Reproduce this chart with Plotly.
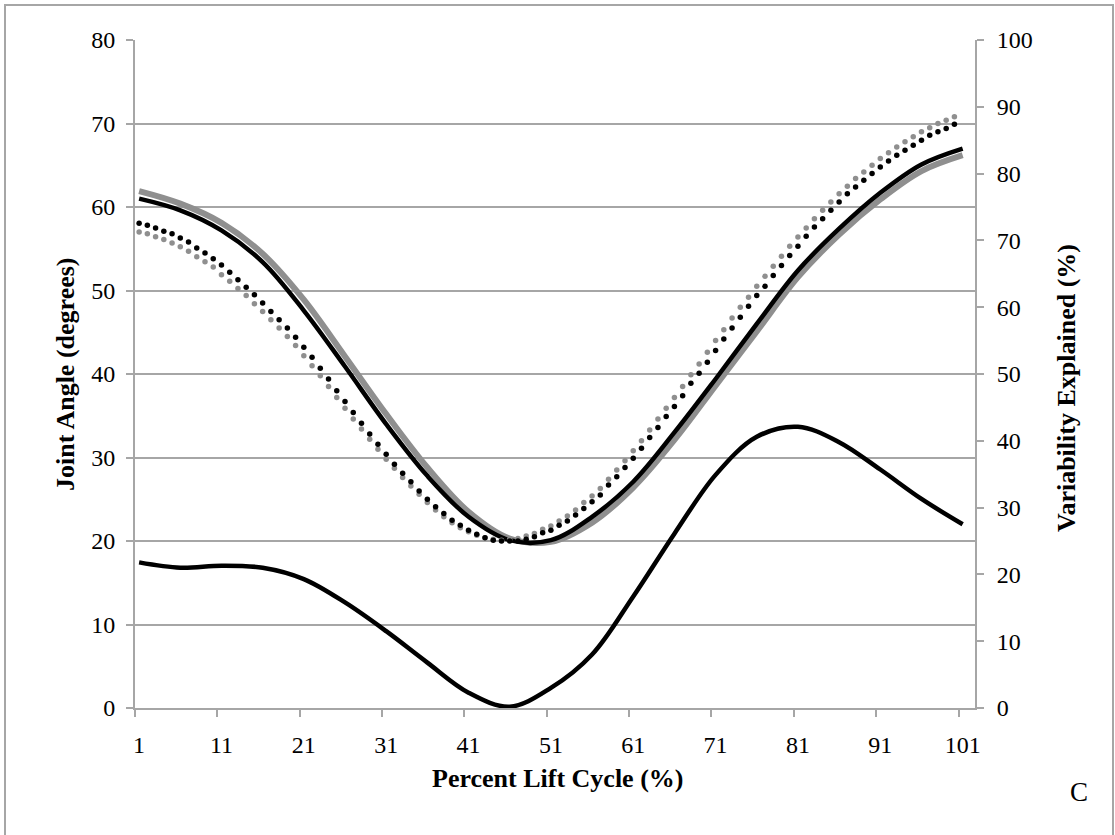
import plotly.graph_objects as go

# ---- data ----
solid_x = [1, 6, 11, 16, 21, 26, 31, 36, 41, 46, 51, 56, 61, 66, 71, 76, 81, 86, 91, 96, 101]
solid_black = [61.0, 59.6, 57.2, 53.4, 47.6, 40.9, 34.0, 27.8, 22.9, 20.1, 20.1, 22.9, 27.1, 33.0, 39.4,
               46.0, 52.4, 57.4, 61.7, 65.1, 67.0]
solid_gray = [61.9, 60.4, 58.1, 54.4, 48.9, 42.1, 35.2, 28.8, 23.5, 20.3, 19.9, 22.2, 26.4, 32.1, 38.6,
              45.1, 51.6, 56.7, 60.9, 64.3, 66.2]
variability = [21.8, 21.0, 21.3, 21.0, 19.3, 15.8, 11.5, 6.8, 2.3, 0.2, 3.0, 8.0, 16.7, 26.1, 34.9,
               40.6, 42.1, 39.8, 35.7, 31.3, 27.5]

dot_x = list(range(1, 101))
dot_black = [58.05, 57.8, 57.5, 57.1, 56.8, 56.3, 55.8, 55.1, 54.5, 53.8,
             53.05, 52.2, 51.3, 50.4, 49.5, 48.5, 47.5, 46.5, 45.5, 44.4,
             43.2, 42.0, 40.7, 39.4, 38.0, 36.7, 35.4, 34.1, 32.8, 31.6,
             30.4, 29.2, 28.1, 27.1, 26.0, 25.0, 24.1, 23.3, 22.5, 21.9,
             21.3, 20.8, 20.4, 20.1, 20.0, 20.0, 20.0, 20.2, 20.5, 21.0,
             21.3, 21.9, 22.4, 23.1, 23.9, 24.7, 25.5, 26.7, 27.7, 28.8,
             29.9, 31.1, 32.4, 33.6, 34.9, 36.1, 37.4, 38.9, 40.1, 41.4,
             42.8, 44.2, 45.5, 46.8, 48.1, 49.4, 50.5, 51.8, 53.0, 54.2,
             55.3, 56.5, 57.6, 58.6, 59.6, 60.6, 61.6, 62.4, 63.2, 64.0,
             64.8, 65.5, 66.2, 66.8, 67.4, 68.0, 68.6, 69.0, 69.4, 69.9]
dot_gray = [57.0, 56.8, 56.45, 56.1, 55.7, 55.25, 54.7, 54.05, 53.45, 52.8,
            51.9, 51.1, 50.25, 49.4, 48.4, 47.5, 46.5, 45.5, 44.5, 43.4,
            42.2, 41.0, 39.8, 38.5, 37.2, 35.9, 34.6, 33.4, 32.2, 31.0,
            29.8, 28.7, 27.6, 26.6, 25.6, 24.6, 23.7, 22.9, 22.2, 21.6,
            21.1, 20.7, 20.4, 20.2, 20.1, 20.2, 20.3, 20.6, 20.9, 21.4,
            21.8, 22.4, 23.0, 23.7, 24.6, 25.4, 26.3, 27.4, 28.5, 29.6,
            30.8, 32.0, 33.3, 34.6, 35.9, 37.2, 38.5, 39.9, 41.2, 42.6,
            44.0, 45.3, 46.7, 48.0, 49.2, 50.5, 51.7, 52.9, 54.1, 55.3,
            56.4, 57.5, 58.6, 59.6, 60.6, 61.6, 62.5, 63.4, 64.2, 65.0,
            65.8, 66.5, 67.2, 67.8, 68.4, 69.0, 69.5, 70.0, 70.4, 70.8]

x_ticks = [1, 11, 21, 31, 41, 51, 61, 71, 81, 91, 101]
x_minor = [0.5, 10.5, 20.5, 30.5, 40.5, 50.5, 60.5, 70.5, 80.5, 90.5, 100.5]

GRAY = "#8f8f8f"
AX = "#a6a6a6"
FONT = "Liberation Serif"

fig = go.Figure()
fig.add_trace(go.Scatter(x=solid_x, y=solid_gray, mode="lines", line=dict(color=GRAY, width=6, shape="spline"),
                         showlegend=False))
fig.add_trace(go.Scatter(x=solid_x, y=solid_black, mode="lines", line=dict(color="black", width=4.5, shape="spline"),
                         showlegend=False))
fig.add_trace(go.Scatter(x=dot_x, y=dot_gray, mode="markers", marker=dict(color=GRAY, size=5.5),
                         showlegend=False))
fig.add_trace(go.Scatter(x=dot_x, y=dot_black, mode="markers", marker=dict(color="black", size=5.5),
                         showlegend=False))
fig.add_trace(go.Scatter(x=solid_x, y=variability, mode="lines", yaxis="y2",
                         line=dict(color="black", width=4.5, shape="spline"), showlegend=False))

fig.update_layout(
    width=1115, height=835,
    margin=dict(l=135, r=140, t=40, b=127),
    paper_bgcolor="white", plot_bgcolor="white",
    font=dict(family=FONT, size=24, color="black"),
    xaxis=dict(range=[0.5, 102.5], tickmode="array", tickvals=x_ticks, ticktext=[str(v) for v in x_ticks],
               ticks="", showgrid=False, zeroline=False, showline=True, linecolor=AX, linewidth=2,
               ticklabelstandoff=14,
               minor=dict(tickmode="array", tickvals=x_minor, ticks="outside", ticklen=7, tickwidth=2,
                          tickcolor=AX, showgrid=False)),
    yaxis=dict(range=[0, 80], dtick=10, tick0=0, showgrid=True, gridcolor=AX, gridwidth=2,
               zeroline=False, showline=True, linecolor=AX, linewidth=2,
               ticks="outside", ticklen=7, tickwidth=2, tickcolor=AX, ticklabelstandoff=6),
    yaxis2=dict(range=[0, 100], dtick=10, tick0=0, overlaying="y", side="right", showgrid=False,
                zeroline=False, showline=True, linecolor=AX, linewidth=2,
                ticks="outside", ticklen=7, tickwidth=2, tickcolor=AX, ticklabelstandoff=8),
)

W, H = 840.0, 668.0
def px(xp):
    return (xp - 135) / W
def py(yp):
    return (708 - yp) / H

fig.add_annotation(text="<b>Percent Lift Cycle (%)</b>", xref="paper", yref="paper",
                   x=px(557), y=py(778), showarrow=False, font=dict(family=FONT, size=26),
                   xanchor="center", yanchor="middle")
fig.add_annotation(text="<b>Joint Angle (degrees)</b>", xref="paper", yref="paper",
                   x=px(65), y=py(374), showarrow=False, textangle=-90, font=dict(family=FONT, size=26),
                   xanchor="center", yanchor="middle")
fig.add_annotation(text="<b>Variability Explained (%)</b>", xref="paper", yref="paper",
                   x=px(1066), y=py(388), showarrow=False, textangle=-90, font=dict(family=FONT, size=26),
                   xanchor="center", yanchor="middle")
fig.add_annotation(text="C", xref="paper", yref="paper",
                   x=px(1079), y=py(792), showarrow=False, font=dict(family=FONT, size=27),
                   xanchor="center", yanchor="middle")

fig.add_shape(type="rect", xref="paper", yref="paper", x0=px(5), x1=px(1113), y0=py(845), y1=py(5),
              line=dict(color=AX, width=2), fillcolor="rgba(0,0,0,0)", layer="below")

fig.write_html("out.html")
